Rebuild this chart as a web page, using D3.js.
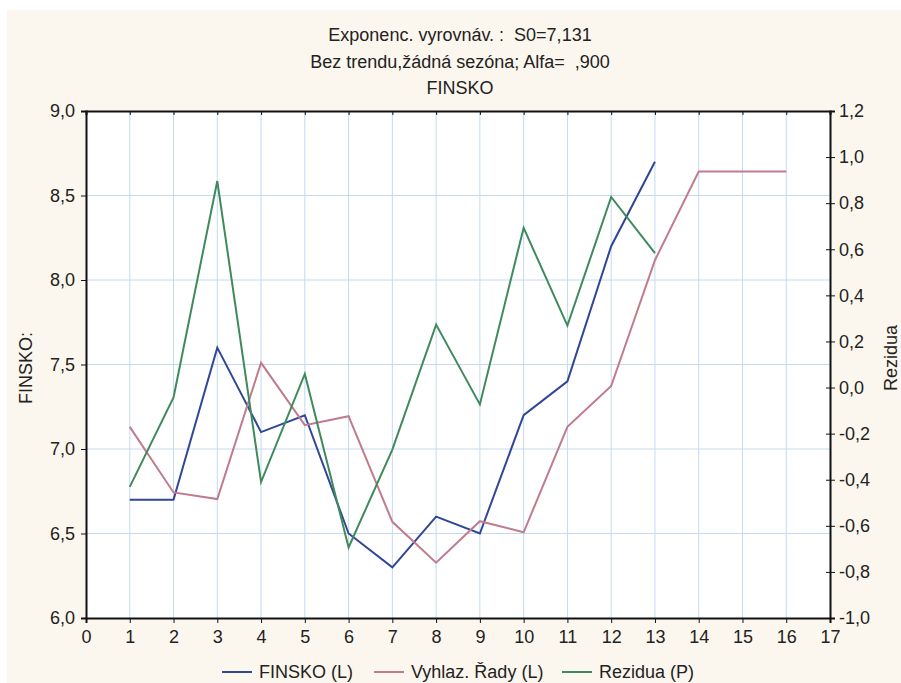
<!DOCTYPE html>
<html>
<head>
<meta charset="utf-8">
<script src="https://cdn.jsdelivr.net/npm/d3@7"></script>
<style>
    body { margin: 0; background: #fff; }
    svg text { font-family: "Liberation Sans", Arial, sans-serif; fill: #222; white-space: pre; }
</style>
</head>
<body>
<svg id="chart" width="901" height="683"></svg>
<script>

var titleLines = [
    "Exponenc. vyrovnáv. :  S0=7,131",
    "Bez trendu,žádná sezóna; Alfa=  ,900",
    "FINSKO"
];

var xTicks     = d3.range(0, 18);
var leftTicks  = [6.0, 6.5, 7.0, 7.5, 8.0, 8.5, 9.0];
var rightTicks = [-1.0, -0.8, -0.6, -0.4, -0.2, 0.0, 0.2, 0.4, 0.6, 0.8, 1.0, 1.2];

var finsko   = [6.7, 6.7, 7.6, 7.1, 7.2, 6.5, 6.3, 6.6, 6.5, 7.2, 7.4, 8.2, 8.7];
var vyhlaz   = [7.131, 6.743, 6.704, 7.510, 7.141, 7.194, 6.569, 6.327, 6.573, 6.507, 7.131, 7.373, 8.117, 8.642, 8.642, 8.642];
var rezidua  = [-0.431, -0.043, 0.896, -0.410, 0.059, -0.694, -0.269, 0.273, -0.073, 0.693, 0.269, 0.827, 0.583];

var legendNames = ["FINSKO (L)", "Vyhlaz. Řady (L)", "Rezidua (P)"];

(function () {

    var svg = d3.select("#chart"),
        m = { left: 86, top: 111, right: 830, bottom: 618 },
        fs = "18px",
        comma = function (v) { return d3.format(".1f")(v).replace(".", ",").replace("−", "-"); };

    var x  = d3.scaleLinear().domain([0, 17]).range([m.left, m.right]),
        yL = d3.scaleLinear().domain([6, 9]).range([m.bottom, m.top]),
        yR = d3.scaleLinear().domain([-1, 1.2]).range([m.bottom, m.top]);

    // beige page, white plot
    svg.append("rect").attr("x", 7).attr("y", 10).attr("width", 894).attr("height", 673).attr("fill", "#fcf7ee");
    svg.append("rect")
        .attr("x", m.left).attr("y", m.top)
        .attr("width", m.right - m.left).attr("height", m.bottom - m.top)
        .attr("fill", "#fff");

    // grid
    svg.append("g").selectAll("line")
        .data(xTicks.slice(1, -1))
        .enter().append("line")
        .attr("x1", x).attr("x2", x)
        .attr("y1", m.top).attr("y2", m.bottom)
        .attr("stroke", "#c4daf0").attr("stroke-width", 1);

    svg.append("g").selectAll("line")
        .data(leftTicks.slice(1, -1))
        .enter().append("line")
        .attr("x1", m.left).attr("x2", m.right)
        .attr("y1", yL).attr("y2", yL)
        .attr("stroke", "#c4daf0").attr("stroke-width", 1);

    // series
    var series = [
        { data: finsko,  y: yL, color: "#2f4796" },
        { data: vyhlaz,  y: yL, color: "#c07b8c" },
        { data: rezidua, y: yR, color: "#3f8a5c" }
    ];

    series.forEach(function (s) {
        var line = d3.line()
            .x(function (d, i) { return x(i + 1); })
            .y(function (d) { return s.y(d); });
        svg.append("path")
            .datum(s.data)
            .attr("d", line)
            .attr("fill", "none")
            .attr("stroke", s.color)
            .attr("stroke-width", 2)
            .attr("stroke-linejoin", "miter");
    });

    // axes
    var bottom = svg.append("g")
        .attr("transform", "translate(0," + m.bottom + ")")
        .call(d3.axisBottom(x).tickValues(xTicks).tickFormat(d3.format("d")).tickSize(5).tickPadding(7));

    var top = svg.append("g")
        .attr("transform", "translate(0," + m.top + ")")
        .call(d3.axisTop(x).tickValues(xTicks).tickFormat("").tickSize(-4));

    var left = svg.append("g")
        .attr("transform", "translate(" + m.left + ",0)")
        .call(d3.axisLeft(yL).tickValues(leftTicks).tickFormat(comma).tickSize(5).tickPadding(6));

    var right = svg.append("g")
        .attr("transform", "translate(" + m.right + ",0)")
        .call(d3.axisRight(yR).tickValues(rightTicks).tickFormat(comma).tickSize(5).tickPadding(4));

    right.selectAll(".tick line").attr("x1", -4);

    [bottom, top, left, right].forEach(function (g) {
        g.select(".domain").attr("stroke", "#111").attr("stroke-width", 2);
        g.selectAll(".tick line").attr("stroke", "#111");
        g.selectAll(".tick text")
            .style("font-size", fs)
            .style("font-family", "'Liberation Sans', Arial, sans-serif")
            .attr("fill", "#222");
    });

    // titles
    svg.append("g").selectAll("text")
        .data(titleLines)
        .enter().append("text")
        .attr("x", 460)
        .attr("y", function (d, i) { return 41 + i * 26.5; })
        .attr("text-anchor", "middle")
        .style("font-size", fs)
        .text(function (d) { return d; });

    svg.append("text")
        .attr("transform", "translate(32,368) rotate(-90)")
        .attr("text-anchor", "middle")
        .style("font-size", fs)
        .text("FINSKO:");

    svg.append("text")
        .attr("transform", "translate(897,358) rotate(-90)")
        .attr("text-anchor", "middle")
        .style("font-size", fs)
        .text("Rezidua");

    // legend
    var lx = [222, 374, 562],
        leg = svg.append("g").selectAll("g")
            .data(legendNames)
            .enter().append("g")
            .attr("transform", function (d, i) { return "translate(" + lx[i] + ",672)"; });

    leg.append("line")
        .attr("x1", 0).attr("x2", 30)
        .attr("stroke", function (d, i) { return series[i].color; })
        .attr("stroke-width", 2);

    leg.append("text")
        .attr("x", 37).attr("y", 6)
        .style("font-size", fs)
        .text(function (d) { return d; });

})();

</script>
</body>
</html>
